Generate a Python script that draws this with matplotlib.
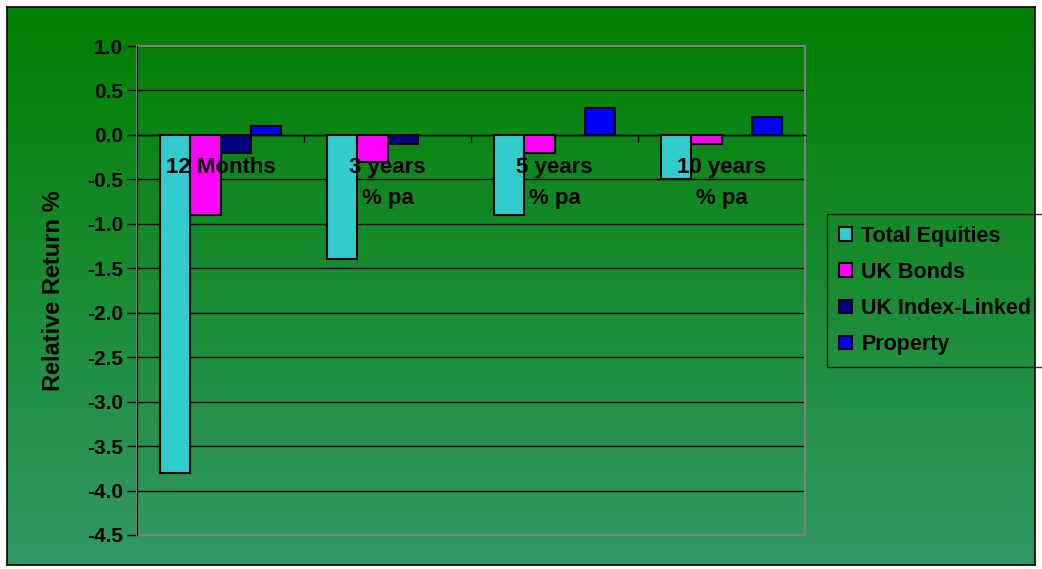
import numpy as np
import matplotlib
matplotlib.use("Agg")
import matplotlib.pyplot as plt
from matplotlib.patches import Rectangle

plt.rcParams['font.family'] = ['Liberation Sans', 'DejaVu Sans']
plt.rcParams['font.weight'] = 'bold'

# data
categories = ["12 Months", "3 years\n% pa", "5 years\n% pa", "10 years\n% pa"]
series_names = ["Total Equities", "UK Bonds", "UK Index-Linked", "Property"]
total_equities = [-3.8, -1.4, -0.9, -0.5]
uk_bonds = [-0.9, -0.3, -0.2, -0.1]
uk_index_linked = [-0.2, -0.1, 0.0, 0.0]
prop = [0.1, 0.0, 0.3, 0.2]
yticks = [1.0, 0.5, 0.0, -0.5, -1.0, -1.5, -2.0, -2.5, -3.0, -3.5, -4.0, -4.5]

colors = ['#33CCCC', '#FF00FF', '#000080', '#0000FF']
series = [total_equities, uk_bonds, uk_index_linked, prop]

fig = plt.figure(figsize=(10.42, 5.69), dpi=100)
fig.patch.set_facecolor('white')

# gradient background inside black border
W, H = 1042, 569
bg = fig.add_axes([7 / W, 1 - 565 / H, (1035 - 7) / W, (565 - 7) / H])
top = np.array([0, 128, 0]) / 255
bot = np.array([51, 152, 102]) / 255
t = np.linspace(0, 1, 256)[:, None]
grad = top[None, :] * (1 - t) + bot[None, :] * t
bg.imshow(grad[:, None, :], aspect='auto', extent=[0, 1, 0, 1])
bg.set_xticks([])
bg.set_yticks([])
for s in bg.spines.values():
    s.set_color('black')
    s.set_linewidth(1.2)
bg.set_zorder(0)

ax = fig.add_axes([137 / W, 1 - 535 / H, (805 - 137) / W, (535 - 46) / H])
ax.set_zorder(1)
ax.patch.set_alpha(0)

n = len(categories)
x = np.arange(n)
bw = 1 / 5.5
for i, (vals, col, name) in enumerate(zip(series, colors, series_names)):
    bars = ax.bar(x + (i - 1.5) * bw, vals, bw, color=col, edgecolor='black',
                  linewidth=1.5, label=name, zorder=3)
    for b, v in zip(bars, vals):
        if v == 0:
            b.set_visible(False)

ax.set_xlim(-0.5, n - 0.5)
ax.set_ylim(-4.5, 1.0)
ax.set_yticks(yticks)
ax.set_yticklabels([f"{v:.1f}" for v in yticks], fontsize=15, fontweight='bold')
ax.tick_params(axis='y', direction='out', length=7, width=1, pad=3)
ax.grid(axis='y', color='black', linewidth=1, zorder=1)

# category axis at zero
ax.spines['bottom'].set_position(('data', 0))
ax.spines['bottom'].set_color('black')
ax.spines['bottom'].set_linewidth(1)
ax.spines['top'].set_visible(False)
ax.spines['right'].set_visible(False)
ax.spines['left'].set_color('black')
ax.set_xticks(x + 0.5, minor=False)
ax.set_xticklabels([])
ax.tick_params(axis='x', direction='out', length=5, width=1, color='black')

for xi, lab in zip(x, categories):
    ax.annotate(lab, (xi, 0), xytext=(0, -16), textcoords='offset points',
                ha='center', va='top', fontsize=16, fontweight='bold',
                linespacing=1.6, zorder=5)

# gray plot-area border
ax.add_patch(Rectangle((0, 0), 1, 1, transform=ax.transAxes, fill=False,
                       edgecolor='#808080', linewidth=1.5, zorder=2,
                       clip_on=False))
ax.spines['left'].set_zorder(4)

ax.set_ylabel("Relative Return %", fontsize=17, fontweight='bold', labelpad=16)

leg = fig.legend(loc='upper left', bbox_to_anchor=(827 / W, 1 - 214 / H),
                 frameon=True, fontsize=15.5, handlelength=0.6,
                 handleheight=0.6, handletextpad=0.45, labelspacing=0.7,
                 borderpad=0.55, borderaxespad=0)
leg.get_frame().set_facecolor('none')
leg.get_frame().set_edgecolor('black')
leg.get_frame().set_linewidth(1)
leg.get_frame().set_boxstyle('square', pad=0)
for txt in leg.get_texts():
    txt.set_fontweight('bold')

fig.savefig('out.png', dpi=100, facecolor='white')
